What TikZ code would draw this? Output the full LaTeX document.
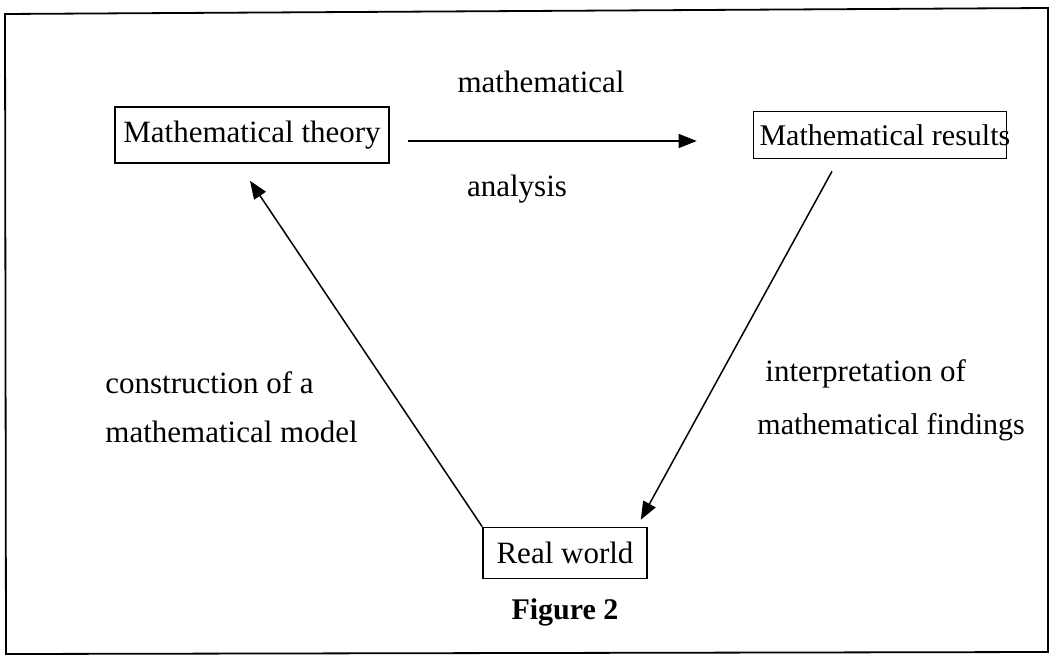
\documentclass[tikz,border=0pt]{standalone}
\usepackage{fontspec}
\setmainfont{Liberation Serif}
\usetikzlibrary{positioning,arrows.meta,calc}

\begin{document}
\begin{tikzpicture}[x=0.5pt,y=-0.5pt,font=\fontsize{15.5}{18}\selectfont,
   stage/.style={draw,line width=0.8pt,inner xsep=2pt,inner ysep=0pt},
   lbl/.style={inner sep=0pt},
   flow/.style={line width=0.75pt,-{Triangle[length=9pt,width=7pt]}}]
  \useasboundingbox (0,0) rectangle (1052,657);
  \draw[line width=0.9pt] (5,14) -- (1048,8) -- (1048,652) -- (6,654) -- cycle;
  % the three stages
  \node[stage,minimum width=137pt,minimum height=28pt] (theory)  at (252,135) {Mathematical theory};
  \node[stage,inner xsep=3pt,minimum height=23.5pt,font=\fontsize{15}{18}\selectfont] (results) at (880,135) {\makebox[120.5pt][l]{Mathematical results}};
  \node[stage,minimum width=82pt,minimum height=25.5pt]  (real)    at (565,553) {Real world};
  \node[lbl,font=\fontsize{15}{17}\selectfont\bfseries] (fig) at (565,612) {Figure 2};
  % labels
  \node[lbl] (mathlbl) at (541,82)  {mathematical};
  \node[lbl] (analbl)  at (517,189) {analysis};
  \node[lbl,anchor=west] (cons1) at (105,383) {construction of a};
  \node[lbl,anchor=west] (cons2) at (105,432) {mathematical model};
  \node[lbl,anchor=west] (interp1) at (765,374) {interpretation of};
  \node[lbl,anchor=west,font=\fontsize{15}{18}\selectfont] (interp2) at (757,427) {mathematical findings};
  % cycle
  \draw[flow] ([xshift=9pt,yshift=-3pt]theory.east) -- ([xshift=-28pt,yshift=-3pt]results.west);
  \draw[flow] ([xshift=-24pt,yshift=-6pt]results.south) -- ([xshift=-3.5pt,yshift=3.5pt]real.north east);
  \draw[flow] (real.north west) -- ([xshift=-1pt,yshift=-8.5pt]theory.south);
\end{tikzpicture}
\end{document}
